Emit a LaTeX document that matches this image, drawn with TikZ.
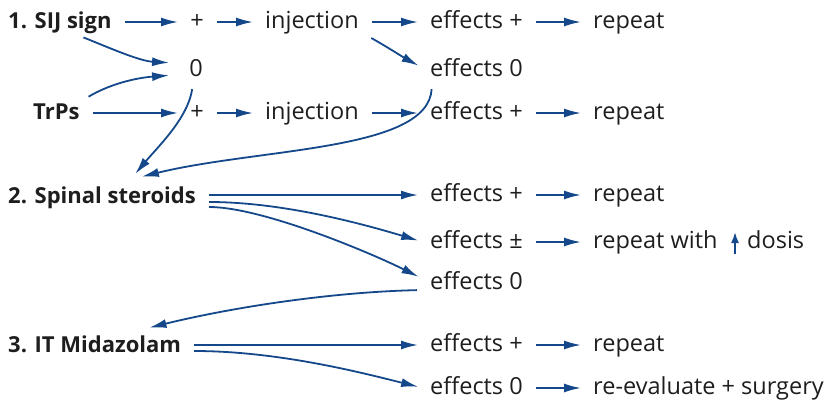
\documentclass[tikz,border=0pt]{standalone}
\usepackage{fontspec}
\setmainfont{Open Sans}
\usetikzlibrary{arrows.meta}
\definecolor{flow}{RGB}{20,72,138}
\definecolor{ink}{RGB}{30,30,30}

\begin{document}
\begin{tikzpicture}[x=1pt,y=-1pt,
	lbl/.style={text=ink,font=\fontsize{23.5}{28}\selectfont,inner xsep=7pt,inner ysep=2pt,text height=17pt,text depth=5pt},
	head/.style={lbl,font=\fontsize{22}{26}\selectfont\bfseries},
	link/.style={draw=flow,line width=1.8pt,-{Latex[length=17pt,width=9pt]},shorten <=6pt,shorten >=5pt}]
	\useasboundingbox (0,0) rectangle (828,402);
	% row 1
	\node[head,anchor=west] (sij) at (1,22) {1. SIJ sign};
	\node[lbl] (pa) at (197,22) {+};
	\node[lbl,anchor=west] (inja) at (258,22) {injection};
	\node[lbl,anchor=west] (effa) at (423,22) {effects +};
	\node[lbl,anchor=west] (repa) at (586,22) {repeat};
	\node[lbl] (zero) at (196,70) {0};
	\node[lbl,anchor=west] (effza) at (423,70) {effects 0};
	\node[head,anchor=west] (trps) at (26,113) {TrPs};
	\node[lbl] (pb) at (197,113) {+};
	\node[lbl,anchor=west] (injb) at (258,113) {injection};
	\node[lbl,anchor=west] (effb) at (423,113) {effects +};
	\node[lbl,anchor=west] (repb) at (586,113) {repeat};
	% row 2
	\node[head,anchor=west] (ster) at (1,197) {2. Spinal steroids};
	\node[lbl,anchor=west] (effc) at (423,195) {effects +};
	\node[lbl,anchor=west] (repc) at (586,195) {repeat};
	\node[lbl,anchor=west] (effd) at (423,242) {effects ±};
	\node[lbl,anchor=west] (repd) at (586,242) {repeat with};
	\node[lbl,anchor=west] (dos) at (740,242) {dosis};
	\node[lbl,anchor=west] (effe) at (423,283) {effects 0};
	% row 3
	\node[head,anchor=west] (mid) at (1,346) {3. IT Midazolam};
	\node[lbl,anchor=west] (efff) at (423,345) {effects +};
	\node[lbl,anchor=west] (repf) at (586,345) {repeat};
	\node[lbl,anchor=west] (effg) at (423,388) {effects 0};
	\node[lbl,anchor=west] (reev) at (586,388) {re-evaluate + surgery};

	\draw[link] (sij) -- (pa);
	\draw[link] (pa) -- (inja);
	\draw[link] (inja) -- (effa);
	\draw[link] (effa) -- (repa);
	\draw[link] (trps) -- (pb);
	\draw[link] (pb) -- (injb);
	\draw[link] (injb) -- (effb);
	\draw[link] (effb) -- (repb);
	\draw[link] ([xshift=18pt]sij.south) .. controls +(30,12) and +(-35,-2) .. ([xshift=-8pt,yshift=7pt]zero.west);
	\draw[link] ([xshift=27pt]trps.north) .. controls +(25,-15) and +(-40,3) .. ([xshift=-8pt,yshift=-5pt]zero.west);
	\draw[link] (inja.south east) .. controls +(15,8) and +(-15,-8) .. ([yshift=2pt]effza.west);
	\draw[link] ([xshift=-3pt]zero.south) .. controls +(-5,35) and +(25,-30) .. ([xshift=30pt,yshift=6pt]ster.north);
	\draw[link] ([xshift=9pt]effza.south west) .. controls +(-4,68) and +(123,-30) .. ([xshift=35pt,yshift=6pt]ster.north);

	\draw[link] ([yshift=2pt]ster.east) -- (effc);
	\draw[link] ([yshift=-5pt]ster.east) .. controls +(80,0) and +(-60,-18) .. (effd.west);
	\draw[link] ([yshift=-10pt]ster.east) .. controls +(60,0) and +(-50,-25) .. ([yshift=4pt]effe.west);
	\draw[link] (effc) -- (repc);
	\draw[link] (effd) -- (repd);
	\draw[link,shorten <=0pt,shorten >=0pt,-{Latex[length=11pt,width=8pt]}] (735,254) -- (735,232);
	\draw[link] ([yshift=-7pt]effe.west) .. controls +(-90,2) and +(90,-22) .. ([xshift=50pt,yshift=4pt]mid.north);

	\draw[link] ([yshift=1pt]mid.east) -- (efff);
	\draw[link] ([yshift=-5pt]mid.east) .. controls +(90,0) and +(-60,-15) .. (effg.west);
	\draw[link] (efff) -- (repf);
	\draw[link] (effg) -- (reev);
\end{tikzpicture}
\end{document}
